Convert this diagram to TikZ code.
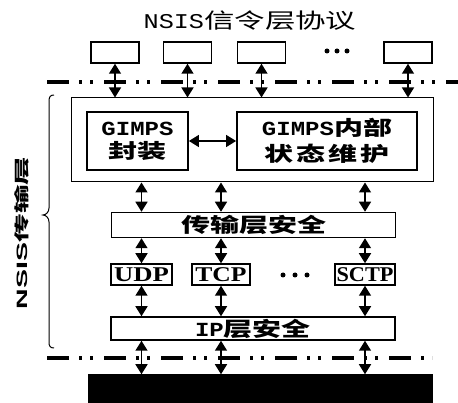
\documentclass[tikz,border=0pt]{standalone}
\usepackage{fontspec}
\usetikzlibrary{arrows.meta}
\newfontfamily\mono[FakeStretch=1.2]{Liberation Mono}
\newfontfamily\cjk[FakeStretch=1.45]{Noto Sans CJK SC}
\newfontfamily\serifB{Liberation Serif}
\newfontfamily\sansB{Liberation Sans}
\newfontfamily\cjkplain{Noto Sans CJK SC}
\newcommand{\fs}[1]{\fontsize{#1}{#1}\selectfont}
\begin{document}
\begin{tikzpicture}[x=1pt,y=-1pt,
  box/.style={draw, line width=1.5pt, inner sep=0pt, align=center},
  dblarrow/.style={line width=1.5pt, {Triangle[width=12pt,length=10pt]}-{Triangle[width=12pt,length=10pt]}},
  dashline/.style={line width=3.5pt, dash pattern=on 22pt off 10pt on 3pt off 8pt on 3pt off 11pt},
  dotmark/.style={circle, fill=black, inner sep=0pt, minimum size=5pt}]
\useasboundingbox (0,0) rectangle (458,403);

% title
\node (title) at (250,21) {\fs{21}\mono NSIS\cjk 信令层协议};

% top boxes
\node[box, minimum width=48pt, minimum height=21pt] (t1) at (115,52.5) {};
\node[box, minimum width=48pt, minimum height=21pt] (t2) at (187.5,52.5) {};
\node[box, minimum width=48pt, minimum height=21pt] (t3) at (261.5,52.5) {};
\node[box, minimum width=48pt, minimum height=21pt] (t4) at (408,52.5) {};
\node[dotmark] (d1) at (327,51) {};
\node[dotmark] (d2) at (337,51) {};
\node[dotmark] (d3) at (347,51) {};

% dash-dot lines
\coordinate (ul) at (47,82);
\coordinate (ur) at (458,82);
\coordinate (ll) at (47,358);
\coordinate (lr) at (432,358);
\draw[dashline] (ul) -- (ur);
\draw[dashline] (ll) -- (lr);

% GIMPS container
\node[box, line width=1pt, minimum width=362pt, minimum height=84pt] (big) at (252,140) {};
\node[box, line width=1.8pt, minimum width=101pt, minimum height=58pt] (enc) at (137.5,141)
  {\fs{20}\mono\bfseries GIMPS\\[5pt]\fs{20}\cjk\bfseries 封装};
\node[box, line width=1.8pt, minimum width=180pt, minimum height=58pt] (state) at (327,141)
  {\fs{20}\mono\bfseries GIMPS\cjk\bfseries 内部\\[5pt]\fs{20}\cjk\bfseries 状\hspace{3pt}态\hspace{3pt}维\hspace{3pt}护};

% transport security
\node[box, minimum width=284pt, minimum height=25pt] (sec1) at (253.5,225)
  {\fs{20}\cjk\bfseries 传输层安全};

% transport protocols
\node[box, minimum width=61pt, minimum height=21pt] (udp) at (141.5,274.5) {\scalebox{1.27}[1]{\fs{21}\serifB\bfseries UDP}};
\node[box, minimum width=58pt, minimum height=21pt] (tcp) at (221,274.5) {\scalebox{1.22}[1]{\fs{21}\serifB\bfseries TCP}};
\node[box, minimum width=60pt, minimum height=21pt] (sctp) at (365,274.5) {\scalebox{1.06}[1]{\fs{21}\serifB\bfseries SCTP}};
\node[dotmark] (m1) at (283,275) {};
\node[dotmark] (m2) at (295,275) {};
\node[dotmark] (m3) at (307,275) {};

% IP security
\node[box, minimum width=284pt, minimum height=23pt] (ipsec) at (253,328.5)
  {\fs{20}\mono\bfseries IP\cjk\bfseries 层安全};

% bottom black box
\node[box, fill=black, minimum width=343pt, minimum height=27pt] (ip) at (260.5,388.5) {};

% arrows
\foreach \t in {t1,t2,t3,t4}
  \draw[dblarrow] (\t.south) -- (\t.south |- big.north);
\draw[dblarrow] (enc.east) -- (state.west);
\foreach \p in {udp,tcp,sctp} {
  \draw[dblarrow] (big.south -| \p) -- (sec1.north -| \p);
  \draw[dblarrow] (sec1.south -| \p) -- (\p.north);
  \draw[dblarrow] (\p.south) -- (ipsec.north -| \p);
  \draw[dblarrow] (ipsec.south -| \p) -- (ip.north -| \p);
}

% brace
\draw[line width=1pt] (54,95) .. controls (50,95) and (49,97) .. (49,102)
  -- (49,208) .. controls (49,212) and (46,215) .. (43,215)
  .. controls (46,215) and (49,218) .. (49,222)
  -- (49,342) .. controls (49,346) and (50,348) .. (54,348);

% side label
\node[rotate=90] (side) at (22,233) {\scalebox{1.9}[1]{\fs{15}\sansB\bfseries NSIS\cjkplain\bfseries 传输层}};
\end{tikzpicture}
\end{document}
